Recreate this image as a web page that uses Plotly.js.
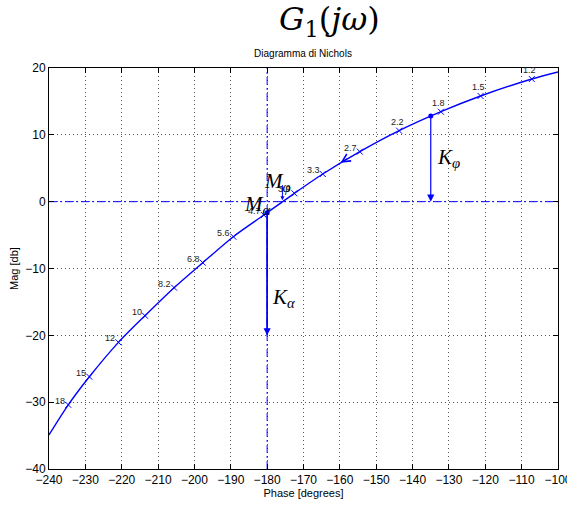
<!DOCTYPE html>
<html>
<head>
<meta charset="utf-8">
<script src="https://cdn.plot.ly/plotly-3.0.1.min.js"></script>
<style>html,body{margin:0;padding:0;background:#fff;}#chart{width:567px;height:506px;}</style>
</head>
<body>
<div id="chart"></div>
<script>
// Frequency markers along the Nichols curve (rad/s labels)
const freqLabels = ['18','15','12','10','8.2','6.8','5.6','4.7','3.9','3.3','2.7','2.2','1.8','1.5','1.2'];
const freqPhase = [-234.7,-228.9,-220.9,-213.6,-205.6,-197.7,-189.3,-180.9,-172.5,-164.7,-154.5,-143.7,-132.2,-121.3,-107.2];
const freqMag   = [-30.4,-26.2,-21.05,-17.06,-12.87,-9.13,-5.24,-2.0,1.25,4.14,7.48,10.62,13.46,15.81,18.35];
// Curve samples (ends + marker points)
const curvePhase = [-240].concat(freqPhase, [-100]);
const curveMag   = [-34.9].concat(freqMag, [19.4]);
// Reference lines
const refPhase = [-180];
const refMag = [0];
const xRange = [-240, -100];
const yRange = [-40, 20];
// Margin arrows: [phase, fromMag, toMag]
const kPhi = [-135, 12.8, 0];
const kAlpha = [-180, -1.65, -20];
const mPhi = [-175.8, 2.7, 0.2];
const dirArrow = [-159.8, 5.83, -157.5, 6.62]; // head phase, head mag, tail phase, tail mag

const blue = '#0000ff';
const serif = 'Liberation Serif, Times New Roman, serif';
const sans = 'Liberation Sans, Arial, Helvetica, sans-serif';

const traces = [
  {x: xRange, y: [refMag[0], refMag[0]], mode: 'lines', line: {color: blue, width: 1, dash: '8px,3px,2px,3px'}, hoverinfo: 'skip'},
  {x: [refPhase[0], refPhase[0]], y: yRange, mode: 'lines', line: {color: blue, width: 1, dash: '8px,3px,2px,3px'}, hoverinfo: 'skip'},
  {x: curvePhase, y: curveMag, mode: 'lines', line: {color: blue, width: 1.4, shape: 'spline', smoothing: 0.8}},
  {x: freqPhase, y: freqMag, mode: 'markers', marker: {symbol: 'x-thin-open', size: 6, color: blue, line: {color: blue, width: 1}}},
  {x: [kPhi[0], kAlpha[0]], y: [kPhi[1], kAlpha[1]], mode: 'markers', marker: {symbol: 'circle', size: 5, color: blue}},
  {x: [kAlpha[0], kAlpha[0]], y: [kAlpha[1], kAlpha[2]], mode: 'lines', line: {color: blue, width: 1.5}}
];

const annotations = [];
freqLabels.forEach((lab, i) => {
  const upper = freqMag[i] > 9;
  annotations.push({
    x: freqPhase[i], y: freqMag[i], xref: 'x', yref: 'y', text: lab, showarrow: false,
    xanchor: upper ? 'center' : 'right', yanchor: 'middle',
    xshift: upper ? -2 : -1, yshift: upper ? 9 : 4,
    font: {family: sans, size: 9, color: '#222'}
  });
});
// arrows
annotations.push({x: kPhi[0], y: kPhi[2], ax: kPhi[0], ay: kPhi[1], xref: 'x', yref: 'y', axref: 'x', ayref: 'y', text: '', showarrow: true, arrowhead: 2, arrowsize: 1.2, arrowwidth: 1.2, arrowcolor: blue});
annotations.push({x: kAlpha[0], y: kAlpha[2], ax: kAlpha[0], ay: kAlpha[1], xref: 'x', yref: 'y', axref: 'x', ayref: 'y', text: '', showarrow: true, arrowhead: 2, arrowsize: 1.2, arrowwidth: 1.2, arrowcolor: blue});
annotations.push({x: mPhi[0], y: mPhi[2], ax: mPhi[0], ay: mPhi[1], xref: 'x', yref: 'y', axref: 'x', ayref: 'y', text: '', showarrow: true, arrowhead: 2, arrowsize: 0.8, arrowwidth: 1, arrowcolor: blue});
annotations.push({x: dirArrow[0], y: dirArrow[1], ax: dirArrow[2], ay: dirArrow[3], xref: 'x', yref: 'y', axref: 'x', ayref: 'y', text: '', showarrow: true, arrowhead: 5, arrowsize: 1.6, arrowwidth: 1, arrowcolor: blue});
// symbol labels
const bigFont = {family: serif, size: 21, color: '#000'};
annotations.push({x: -133.8, y: 6.5, xref: 'x', yref: 'y', text: '<i>K</i><sub><i>φ</i></sub>', showarrow: false, xanchor: 'left', yanchor: 'middle', font: bigFont});
annotations.push({x: -179.2, y: -14.4, xref: 'x', yref: 'y', text: '<i>K</i><sub><i>α</i></sub>', showarrow: false, xanchor: 'left', yanchor: 'middle', font: bigFont});
annotations.push({x: -181.3, y: 2.9, xref: 'x', yref: 'y', text: '<i>M</i><sub><i>φ</i></sub>', showarrow: false, xanchor: 'left', yanchor: 'middle', font: bigFont});
annotations.push({x: -186.8, y: -0.5, xref: 'x', yref: 'y', text: '<i>M</i><sub><i>α</i></sub>', showarrow: false, xanchor: 'left', yanchor: 'middle', font: bigFont});
// main title
annotations.push({x: 329, y: 20, xref: 'paper', yref: 'paper', text: '<i>G</i><sub>1</sub>(<i>jω</i>)', showarrow: false,
  font: {family: 'DejaVu Serif, serif', size: 32, color: '#000'}, xanchor: 'center', yanchor: 'middle'});

// convert pixel title position to paper coords
const W = 567, H = 506, M = {l: 49, r: 9, t: 68, b: 37};
const last = annotations[annotations.length - 1];
last.x = (329 - M.l) / (W - M.l - M.r);
last.y = 1 + (M.t - 21) / (H - M.t - M.b);

const axisCommon = {
  showline: true, linecolor: '#000', linewidth: 1, mirror: 'ticks',
  ticks: 'inside', ticklen: 5, tickcolor: '#000', tickwidth: 1,
  showgrid: true, gridcolor: '#555', gridwidth: 1, griddash: '1px,3px',
  zeroline: false, tickfont: {family: sans, size: 12, color: '#000'}, automargin: false,
  ticklabeloverflow: 'allow'
};

const layout = {
  width: W, height: H, margin: M, showlegend: false,
  paper_bgcolor: '#fff', plot_bgcolor: '#fff',
  title: {text: 'Diagramma di Nichols', font: {family: sans, size: 10, color: '#000'}, x: (303 - 0) / W, xanchor: 'center', y: 1 - 53 / H, yanchor: 'middle', yref: 'container'},
  xaxis: Object.assign({}, axisCommon, {range: xRange, tick0: -240, dtick: 10, title: {text: 'Phase [degrees]', font: {family: sans, size: 11, color: '#000'}, standoff: 2}}),
  yaxis: Object.assign({}, axisCommon, {range: yRange, tick0: -40, dtick: 10, title: {text: 'Mag [db]', font: {family: sans, size: 11, color: '#000'}, standoff: 4}}),
  annotations: annotations
};

Plotly.newPlot('chart', traces, layout, {displayModeBar: false, staticPlot: true});
</script>
</body>
</html>
